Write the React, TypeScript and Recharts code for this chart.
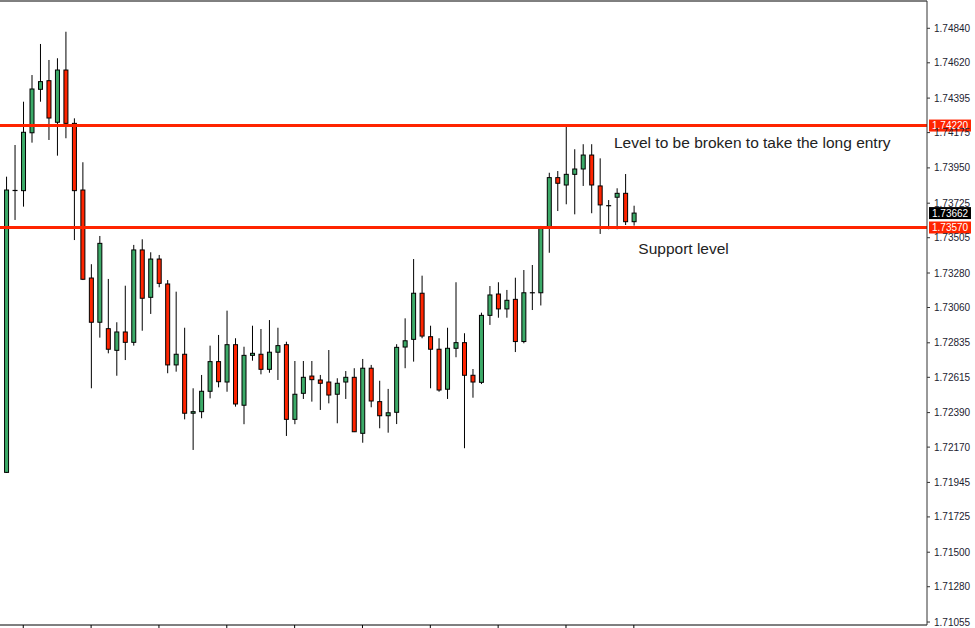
import React from "react";
import {
  ComposedChart,
  Bar,
  XAxis,
  YAxis,
  ReferenceLine,
  ReferenceDot,
} from "recharts";

// OHLC, one entry per candle
const opens = [
  1.72009, 1.73806, 1.73805, 1.74174, 1.74451, 1.74506, 1.74241, 1.74574, 1.74234, 1.73809,
  1.73248, 1.72966, 1.72925, 1.72787, 1.72904, 1.72838, 1.73427, 1.73125, 1.73369, 1.7321,
  1.72694, 1.72762, 1.72386, 1.72396, 1.72526, 1.72715, 1.72585, 1.72823, 1.72437, 1.72755,
  1.72762, 1.72666, 1.72775, 1.72823, 1.72347, 1.72513, 1.72623, 1.72598, 1.72585, 1.72507,
  1.72585, 1.72615, 1.72258, 1.72673, 1.7246, 1.7237, 1.72392, 1.72808, 1.72857, 1.73151,
  1.72874, 1.72794, 1.72539, 1.728, 1.72836, 1.72628, 1.72583, 1.7301, 1.73146, 1.73051,
  1.73112, 1.72843, 1.73154, 1.73154, 1.73575, 1.73888, 1.73841, 1.73909, 1.73943, 1.74032,
  1.73835, 1.73709, 1.73763, 1.73788, 1.73607,
];
const highs = [
  1.73894, 1.74096, 1.74372, 1.74542, 1.7474, 1.74638, 1.74649, 1.74818, 1.74266, 1.73986,
  1.73336, 1.73516, 1.73242, 1.72966, 1.73199, 1.73459, 1.73495, 1.73412, 1.73395, 1.73235,
  1.73161, 1.72931, 1.72545, 1.7263, 1.72817, 1.72885, 1.7304, 1.72864, 1.7281, 1.72944,
  1.72923, 1.7298, 1.72931, 1.72842, 1.72719, 1.72719, 1.72719, 1.7263, 1.72789, 1.72609,
  1.72655, 1.72673, 1.72732, 1.72694, 1.72593, 1.72541, 1.72826, 1.72991, 1.73369, 1.73263,
  1.72944, 1.72864, 1.72931, 1.73221, 1.72896, 1.72668, 1.73027, 1.73197, 1.73221, 1.73172,
  1.7325, 1.73299, 1.73331, 1.7358, 1.73919, 1.7393, 1.74218, 1.74069, 1.74101, 1.74101,
  1.74011, 1.73745, 1.7382, 1.73911, 1.73709,
];
const lows = [
  1.72005, 1.73618, 1.73703, 1.74111, 1.74372, 1.74128, 1.74028, 1.74139, 1.7349, 1.73235,
  1.72545, 1.72868, 1.72768, 1.72625, 1.72725, 1.72817, 1.72912, 1.73019, 1.73189, 1.72641,
  1.72651, 1.72347, 1.72152, 1.72354, 1.72481, 1.72551, 1.72523, 1.72428, 1.72316, 1.72721,
  1.72634, 1.72644, 1.72598, 1.72241, 1.72316, 1.72477, 1.7246, 1.72407, 1.72449, 1.72322,
  1.72477, 1.72266, 1.72198, 1.72424, 1.7229, 1.72262, 1.72317, 1.72673, 1.72715, 1.72864,
  1.72545, 1.72523, 1.72477, 1.72743, 1.72163, 1.72485, 1.72572, 1.72949, 1.72995, 1.72995,
  1.72776, 1.72832, 1.73044, 1.73073, 1.73409, 1.73675, 1.73718, 1.73654, 1.73835, 1.73661,
  1.73529, 1.73559, 1.73559, 1.73586, 1.73582,
];
const closes = [
  1.73809, 1.73806, 1.74177, 1.74453, 1.745, 1.74268, 1.74574, 1.74234, 1.73805, 1.7324,
  1.72966, 1.73469, 1.72794, 1.72904, 1.72838, 1.73427, 1.73119, 1.73369, 1.73214, 1.72694,
  1.72762, 1.72386, 1.72396, 1.72526, 1.72715, 1.72587, 1.72823, 1.72445, 1.72755, 1.72768,
  1.72666, 1.72775, 1.72817, 1.72347, 1.72507, 1.72615, 1.726, 1.72577, 1.72502, 1.72577,
  1.72615, 1.72268, 1.72673, 1.72464, 1.7237, 1.72389, 1.72806, 1.72848, 1.73151, 1.72878,
  1.72794, 1.72534, 1.728, 1.72836, 1.72628, 1.72585, 1.7301, 1.7314, 1.73051, 1.73106,
  1.72843, 1.73154, 1.73154, 1.73575, 1.73888, 1.73852, 1.73909, 1.73943, 1.74032, 1.73841,
  1.73714, 1.73709, 1.73788, 1.73607, 1.73662,
];

const priceTicks = [
  1.7484, 1.7462, 1.74395, 1.74175, 1.7395, 1.73725, 1.73505, 1.7328, 1.7306,
  1.72835, 1.72615, 1.7239, 1.7217, 1.71945, 1.71725, 1.715, 1.7128, 1.71055,
];
const timeTicks = [2, 10, 18, 26, 34, 42, 50, 58, 66, 74];

const levels = [1.7422, 1.7357];
const lastPrice = 1.73662;

const notes = [
  { text: "Level to be broken to take the long entry", at: 71.66, price: 1.74079 },
  { text: "Support level", at: 74.53, price: 1.73401 },
];

const BULL = "#3CAA68";
const BEAR = "#FF2400";
const LINE_RED = "#FF2400";
const FONT = "'Liberation Sans', Arial, sans-serif";

const candles = opens.map((o, i) => ({
  i,
  o,
  h: highs[i],
  l: lows[i],
  c: closes[i],
  range: [lows[i], highs[i]],
}));

const Candle = (props: any) => {
  const { x, y, width, height, payload } = props;
  if (!payload) return null;
  const { o, h, l, c } = payload;
  const top = Math.min(y, y + height);
  const bottom = Math.max(y, y + height);
  const span = h - l;
  const toY = (p: number) => (span === 0 ? top : top + ((h - p) / span) * (bottom - top));
  const cx = x + width / 2;
  const yo = toY(o);
  const yc = toY(c);
  const bodyTop = Math.min(yo, yc);
  const bodyH = Math.abs(yo - yc);

  return (
    <g>
      <line x1={cx} x2={cx} y1={top} y2={bottom} stroke="#000" strokeWidth={1} />
      {bodyH < 1 ? (
        <line x1={cx - 2.5} x2={cx + 2.5} y1={yc} y2={yc} stroke="#000" strokeWidth={1.2} />
      ) : (
        <rect
          x={cx - 2}
          y={bodyTop}
          width={4}
          height={bodyH}
          fill={c > o ? BULL : BEAR}
          stroke="#000"
          strokeWidth={1}
        />
      )}
    </g>
  );
};

const PriceTag = (props: any) => {
  const { viewBox, value, fill } = props;
  if (!viewBox) return null;
  const x = viewBox.x + viewBox.width + 2;
  const y = viewBox.y;
  return (
    <g>
      <rect x={x} y={y - 6} width={42} height={12} fill={fill} />
      <text x={x + 3} y={y + 3.6} fill="#fff" fontSize={10} fontFamily={FONT}>
        {value.toFixed(5)}
      </text>
    </g>
  );
};

const NoteLabel = (props: any) => {
  const { viewBox, text } = props;
  if (!viewBox) return null;
  return (
    <text x={viewBox.x} y={viewBox.y} fill="#222" fontSize={15.5} fontFamily={FONT}>
      {text}
    </text>
  );
};

const EmptyTick = () => <g />;

export default function App() {
  return (
    <div style={{ position: "absolute", left: 0, top: 0, width: 975, height: 628, background: "#fff" }}>
      <ComposedChart
        width={975}
        height={628}
        data={candles}
        margin={{ top: 0, right: 0, bottom: 0, left: 0 }}
      >
        <XAxis
          xAxisId="top"
          orientation="top"
          dataKey="i"
          type="number"
          domain={[-0.743, 108.57]}
          allowDataOverflow
          height={1}
          tick={false}
          tickLine={false}
          axisLine={{ stroke: "#000" }}
        />
        <XAxis
          dataKey="i"
          type="number"
          domain={[-0.743, 108.57]}
          allowDataOverflow
          ticks={timeTicks}
          interval={0}
          height={3}
          tick={<EmptyTick />}
          tickSize={3}
          tickLine={{ stroke: "#000" }}
          axisLine={{ stroke: "#000" }}
        />
        <YAxis
          orientation="right"
          type="number"
          width={48}
          domain={[1.71036, 1.75014]}
          allowDataOverflow
          ticks={priceTicks}
          interval={0}
          tickFormatter={(v: number) => v.toFixed(5)}
          tick={{ fill: "#1c2230", fontSize: 10, fontFamily: FONT }}
          tickSize={3}
          tickMargin={4}
          tickLine={{ stroke: "#333" }}
          axisLine={{ stroke: "#333" }}
        />
        <Bar
          dataKey="range"
          barSize={7}
          shape={<Candle />}
          isAnimationActive={false}
        />
        {levels.map((lv) => (
          <ReferenceLine
            key={lv}
            y={lv}
            stroke={LINE_RED}
            strokeWidth={3}
            label={<PriceTag value={lv} fill={LINE_RED} />}
          />
        ))}
        <ReferenceLine
          y={lastPrice}
          stroke="none"
          label={<PriceTag value={lastPrice} fill="#000" />}
        />
        {notes.map((n) => (
          <ReferenceDot
            key={n.text}
            x={n.at}
            y={n.price}
            r={0}
            fill="none"
            stroke="none"
            label={<NoteLabel text={n.text} />}
          />
        ))}
      </ComposedChart>
    </div>
  );
}
